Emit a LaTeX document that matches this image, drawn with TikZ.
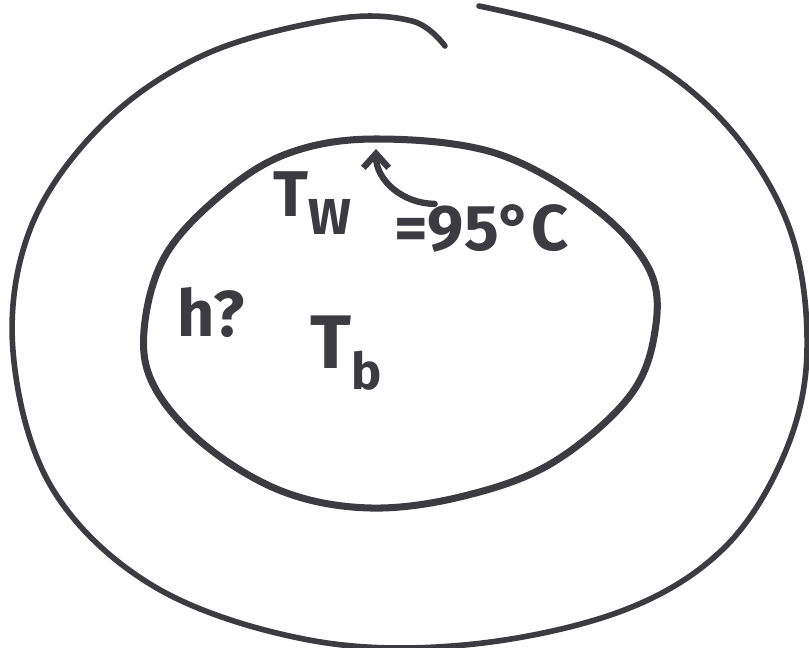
\documentclass[tikz,border=0pt]{standalone}
\usepackage{fontspec}
\setsansfont{Fira Sans}
\usetikzlibrary{arrows.meta}
\definecolor{pen}{HTML}{3C3B42}
\newcommand{\lowsub}[1]{\raisebox{-0.28em}{\fontsize{36}{40}\selectfont #1}}
\tikzset{
  wall/.style={draw=pen, line width=5pt, line cap=round, line join=round},
  shell/.style={draw=pen, line width=4pt, line cap=round},
  scribble/.style={text=pen, inner sep=0pt, font=\sffamily\bfseries\fontsize{46}{52}\selectfont},
}
\begin{document}
\begin{tikzpicture}[x=0.025cm, y=-0.025cm, >={Straight Barb[length=10pt, width=18pt]}]
  \useasboundingbox (0,0) rectangle (809,647);
  % outer shell (open at the top)
  \draw[shell] plot[smooth, tension=0.6] coordinates {
    (479,6) (619,45) (722,120) (789,227) (807,351) (784,455) (722,550)
    (619,612) (464,645) (309,640) (155,587) (52,488) (13,351) (31,227)
    (103,124) (206,54) (335,19) (412,21) (445,46)};

  % inner wall
  \draw[wall] plot[smooth cycle, tension=0.6] coordinates {
    (376,139) (495,153) (593,207) (649,269) (655,331) (629,397) (552,463)
    (464,496) (371,508) (284,492) (206,446) (155,388) (144,331) (165,256)
    (222,194) (289,153)};

  % labels
  \node[scribble] (tw) at (312,203) {T\lowsub{W}};
  \node[scribble] (temp) at (482,228) {=95°C};
  \node[scribble] (h) at (211,313) {h?};
  \node[scribble, font=\sffamily\bfseries\fontsize{54}{60}\selectfont] (tb) at (346,353) {T\lowsub{b}};

  % arrow to the wall
  \coordinate (top) at (376,149);
  \draw[->, draw=pen, line width=4.5pt, line cap=round] ([xshift=1cm]temp.north west) to[out=180, in=-90] (top);
\end{tikzpicture}
\end{document}
